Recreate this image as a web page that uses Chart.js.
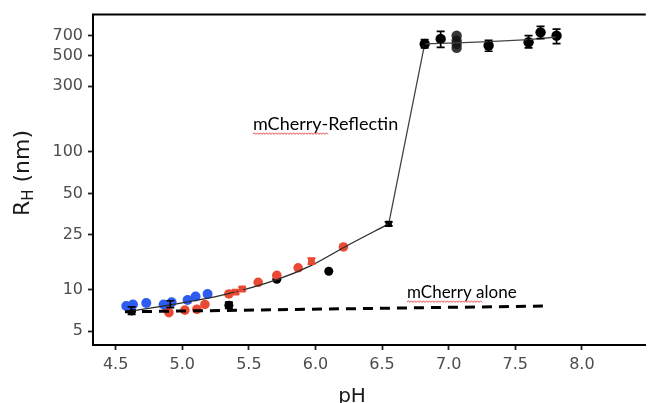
<!DOCTYPE html>
<html>
<head>
<meta charset="utf-8">
<script src="https://cdn.jsdelivr.net/npm/chart.js@4"></script>
<style>
  html, body { margin: 0; padding: 0; background: #fff; overflow: hidden; }
</style>
</head>
<body>
<canvas id="chart" width="651" height="403"></canvas>
<script>
// ---- data (pH, R_H in nm) ----
const xTicks = [4.5, 5.0, 5.5, 6.0, 6.5, 7.0, 7.5, 8.0];
const yTicks = [5, 10, 25, 50, 100, 300, 500, 700];

const phBlue = [4.58, 4.63, 4.73, 4.86, 4.92, 5.04, 5.10, 5.19];
const rhBlue = [7.6, 7.8, 8.0, 7.8, 8.1, 8.4, 8.9, 9.3];

const phRed = [4.88, 4.90, 5.02, 5.11, 5.17, 5.35, 5.40, 5.45, 5.57, 5.71, 5.87, 5.97, 6.21];
const rhRed = [7.5, 6.8, 7.1, 7.2, 7.8, 9.3, 9.6, 10.1, 11.3, 12.7, 14.4, 16.1, 20.4];
const redShape = ['circle','circle','circle','circle','circle','circle','rect','rect','circle','circle','circle','rect','circle'];
const redErrLo = [null, null, null, null, null, null, 9.3, 9.8, null, null, null, 15.3, null];
const redErrHi = [null, null, null, null, null, null, 9.9, 10.4, null, null, null, 16.9, null];

const phBlackLow = [4.62, 4.91, 5.35, 5.71, 6.10, 6.55];
const rhBlackLow = [7.0, 7.8, 7.7, 11.9, 13.6, 30.0];
const blackShape = ['circle', 'rect', 'circle', 'circle', 'circle', 'rect'];
const blackErrLo = [6.6, 7.4, 7.3, null, null, 29.0];
const blackErrHi = [7.5, 8.3, 8.1, null, null, 31.0];

const phTop = [6.82, 6.94, 7.30, 7.60, 7.69, 7.81];
const rhTop = [608, 661, 592, 625, 738, 698];
const topErrLo = [569, 575, 538, 569, 665, 611];
const topErrHi = [655, 750, 646, 698, 816, 780];

const phCluster = [7.06, 7.06, 7.06, 7.06];
const rhCluster = [698, 643, 608, 569];

// fitted curve (low pH part) and the jump / plateau line
const phCurve = [4.58, 4.93, 5.30, 5.71, 5.97, 6.22, 6.55];
const rhCurve = [6.9, 7.8, 9.1, 11.8, 15.0, 20.4, 30.0];
const phJump = [6.55, 6.82, 7.06, 7.30, 7.60, 7.81];
const rhJump = [30.0, 608, 618, 631, 654, 683];

// mCherry alone
const phDash = [4.57, 7.74];
const rhDash = [6.9, 7.6];

const pts = (xs, ys) => xs.map((x, i) => ({ x: x, y: ys[i] }));

const TICK_FONT = { family: "'DejaVu Sans', sans-serif", size: 16 };

// ---- error bars, top frame line, titles, annotations ----
const extras = {
  id: 'extras',
  afterDatasetsDraw(chart) {
    const ctx = chart.ctx;
    const xs = chart.scales.x, ys = chart.scales.y;
    chart.data.datasets.forEach((ds) => {
      if (!ds.errLo) return;
      ctx.save();
      ctx.strokeStyle = ds.barColor || '#000';
      ctx.lineWidth = 1.7;
      ds.data.forEach((p, i) => {
        if (ds.errLo[i] == null) return;
        const px = xs.getPixelForValue(p.x);
        const y1 = ys.getPixelForValue(ds.errLo[i]);
        const y2 = ys.getPixelForValue(ds.errHi[i]);
        ctx.beginPath();
        ctx.moveTo(px, y1); ctx.lineTo(px, y2);
        ctx.moveTo(px - 4, y1); ctx.lineTo(px + 4, y1);
        ctx.moveTo(px - 4, y2); ctx.lineTo(px + 4, y2);
        ctx.stroke();
      });
      ctx.restore();
    });
  },
  afterDraw(chart) {
    const ctx = chart.ctx;
    const a = chart.chartArea;
    ctx.save();
    // top frame line
    ctx.strokeStyle = '#000';
    ctx.lineWidth = 2;
    ctx.beginPath();
    ctx.moveTo(a.left - 1, a.top);
    ctx.lineTo(a.right, a.top);
    ctx.stroke();

    // axis titles
    ctx.fillStyle = '#1a1a1a';
    ctx.font = "20px 'DejaVu Sans', sans-serif";
    ctx.textAlign = 'center';
    ctx.textBaseline = 'middle';
    ctx.fillText('pH', 352, 397);

    ctx.save();
    ctx.translate(29, 173);
    ctx.rotate(-Math.PI / 2);
    ctx.textBaseline = 'alphabetic';
    ctx.textAlign = 'left';
    const big = "22px 'DejaVu Sans', sans-serif";
    const small = "15px 'DejaVu Sans', sans-serif";
    ctx.font = big;
    const wR = ctx.measureText('R').width;
    const wRest = ctx.measureText(' (nm)').width;
    ctx.font = small;
    const wH = ctx.measureText('H').width;
    let x0 = -(wR + wH + wRest) / 2;
    ctx.font = big; ctx.fillText('R', x0, 0);
    ctx.font = small; ctx.fillText('H', x0 + wR, 4);
    ctx.font = big; ctx.fillText(' (nm)', x0 + wR + wH, 0);
    ctx.restore();

    // annotations
    ctx.fillStyle = '#000';
    ctx.textAlign = 'left';
    ctx.textBaseline = 'alphabetic';
    ctx.font = "18px Lato, sans-serif";
    ctx.fillText('mCherry-Reflectin', 253, 130);
    ctx.font = "17px Lato, sans-serif";
    ctx.fillText('mCherry alone', 407, 298);

    // spell-check squiggles
    const squiggle = (x1, x2, y) => {
      ctx.save();
      ctx.strokeStyle = '#e03a3a';
      ctx.lineWidth = 0.9;
      ctx.beginPath();
      let up = true;
      ctx.moveTo(x1, y);
      for (let x = x1 + 1.5; x <= x2; x += 1.5) {
        ctx.lineTo(x, up ? y - 1.2 : y + 0.4);
        up = !up;
      }
      ctx.stroke();
      ctx.restore();
    };
    squiggle(253, 328, 134);
    squiggle(407, 483, 302);
    ctx.restore();
  }
};

new Chart(document.getElementById('chart'), {
  type: 'scatter',
  data: {
    datasets: [
      {
        type: 'line', data: pts(phDash, rhDash),
        borderColor: '#000', borderWidth: 3, borderDash: [10, 7],
        pointRadius: 0, fill: false
      },
      {
        type: 'line', data: pts(phCurve, rhCurve),
        borderColor: '#2b2b2b', borderWidth: 1.3, cubicInterpolationMode: 'monotone',
        pointRadius: 0, fill: false
      },
      {
        type: 'line', data: pts(phJump, rhJump),
        borderColor: '#444', borderWidth: 1.3, tension: 0,
        pointRadius: 0, fill: false
      },
      {
        data: pts(phBlue, rhBlue),
        backgroundColor: '#2e5cf0', borderColor: '#2e5cf0', pointRadius: 5, borderWidth: 0
      },
      {
        data: pts(phRed, rhRed), pointStyle: redShape,
        backgroundColor: '#ea4a33', borderColor: '#ea4a33', pointRadius: 4.8, borderWidth: 0,
        errLo: redErrLo, errHi: redErrHi, barColor: '#ea4a33'
      },
      {
        data: pts(phBlackLow, rhBlackLow), pointStyle: blackShape,
        backgroundColor: '#000', borderColor: '#000', pointRadius: 4.5, borderWidth: 0,
        errLo: blackErrLo, errHi: blackErrHi
      },
      {
        data: pts(phCluster, rhCluster),
        backgroundColor: 'rgba(20,20,20,0.85)', borderColor: '#333', pointRadius: 5.2, borderWidth: 0
      },
      {
        data: pts(phTop, rhTop),
        backgroundColor: '#000', borderColor: '#000', pointRadius: 5.2, borderWidth: 0,
        errLo: topErrLo, errHi: topErrHi
      }
    ]
  },
  options: {
    responsive: false,
    animation: false,
    layout: { padding: { top: 13, left: 0, right: 0, bottom: 0 } },
    plugins: { legend: { display: false }, tooltip: { enabled: false } },
    scales: {
      x: {
        type: 'linear', min: 4.33, max: 8.48,
        afterBuildTicks: (s) => { s.ticks = xTicks.map(v => ({ value: v })); },
        afterFit: (s) => { s.height = 58; },
        ticks: {
          callback: (v) => Number(v).toFixed(1),
          font: TICK_FONT, color: '#4d4d4d', padding: 5, autoSkip: false, maxRotation: 0
        },
        grid: { drawOnChartArea: false, drawTicks: true, tickLength: 5, tickColor: '#222', tickWidth: 1.8 },
        border: { color: '#000', width: 2 }
      },
      y: {
        type: 'logarithmic', min: 3.96, max: 993,
        afterBuildTicks: (s) => { s.ticks = yTicks.map(v => ({ value: v })); },
        afterFit: (s) => { s.width = 93; },
        ticks: {
          callback: (v) => String(v),
          font: TICK_FONT, color: '#4d4d4d', padding: 5, autoSkip: false
        },
        grid: { drawOnChartArea: false, drawTicks: true, tickLength: 5, tickColor: '#222', tickWidth: 1.8 },
        border: { color: '#000', width: 2 }
      }
    }
  },
  plugins: [extras]
});
</script>
</body>
</html>
